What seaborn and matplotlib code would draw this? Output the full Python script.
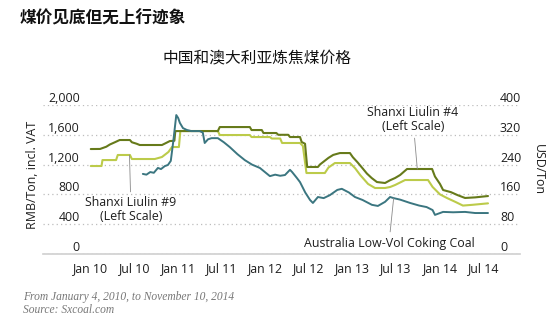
import matplotlib
matplotlib.use("Agg")
import matplotlib.pyplot as plt
import matplotlib.transforms as mtransforms
import seaborn as sns
import pandas as pd

# ---------------- data ----------------
liulin4_dates = ["2010-01-04","2010-02-12","2010-03-10","2010-03-25","2010-04-15","2010-05-05","2010-06-17","2010-06-25",
                 "2010-07-15","2010-07-28","2010-10-29","2010-11-15","2010-12-01","2010-12-20","2010-12-24","2011-06-20",
                 "2011-06-28","2011-11-01","2011-11-08","2011-12-21","2011-12-28","2012-02-20","2012-02-28","2012-04-10",
                 "2012-04-17","2012-05-29","2012-06-05","2012-06-19","2012-06-28","2012-08-12","2012-08-20","2012-09-05",
                 "2012-09-25","2012-10-15","2012-11-12","2012-12-24","2013-01-05","2013-01-25","2013-02-15","2013-03-05",
                 "2013-03-25","2013-04-16","2013-05-20","2013-06-10","2013-07-01","2013-07-22","2013-08-20","2013-12-03",
                 "2013-12-15","2014-01-05","2014-01-18","2014-02-20","2014-03-20","2014-04-20","2014-06-01","2014-07-25"]
liulin4_rmb = [1409,1410,1440,1470,1500,1530,1530,1500,
               1480,1463,1463,1490,1516,1520,1650,1650,
               1704,1704,1664,1664,1624,1624,1600,1600,
               1570,1570,1503,1480,1168,1168,1200,1240,
               1290,1330,1355,1355,1300,1230,1150,1080,
               1020,966,953,990,1020,1060,1141,1141,
               1040,940,859,830,790,752,760,778]

liulin9_dates = ["2010-01-04","2010-02-18","2010-02-22","2010-04-20","2010-04-27","2010-06-17","2010-06-25","2010-09-29",
                 "2010-10-29","2010-11-25","2010-12-10","2011-01-08","2011-01-14","2011-06-20","2011-06-28","2011-11-01",
                 "2011-11-08","2012-01-24","2012-02-01","2012-03-07","2012-03-15","2012-05-29","2012-06-10","2012-06-25",
                 "2012-09-10","2012-09-25","2012-10-22","2012-12-24","2013-01-15","2013-02-05","2013-03-10","2013-04-08",
                 "2013-05-20","2013-06-10","2013-07-01","2013-08-12","2013-11-16","2013-12-05","2014-01-05","2014-02-03",
                 "2014-03-10","2014-04-11","2014-05-20","2014-07-25"]
liulin9_rmb = [1181,1181,1261,1261,1329,1329,1275,1275,
               1302,1369,1436,1436,1651,1651,1597,1597,
               1570,1570,1550,1550,1490,1490,1450,1087,
               1087,1160,1221,1221,1150,1060,940,886,
               886,899,926,993,993,900,800,752,
               700,650,660,680]

aus_dates = ["2010-08-10","2010-08-25","2010-09-10","2010-09-25","2010-10-12","2010-10-25","2010-11-10","2010-11-23",
             "2010-12-05","2010-12-15","2010-12-28","2011-01-05","2011-01-12","2011-01-25","2011-02-10","2011-03-01",
             "2011-04-05","2011-04-18","2011-04-26","2011-05-10","2011-05-25","2011-06-20","2011-07-15","2011-08-09",
             "2011-09-10","2011-10-11","2011-11-10","2011-12-13","2012-01-24","2012-02-15","2012-03-07","2012-03-27",
             "2012-04-17","2012-04-26","2012-05-16","2012-05-29","2012-06-20","2012-07-10","2012-07-22","2012-08-12",
             "2012-09-05","2012-10-01","2012-11-01","2012-11-20","2012-12-20","2013-01-14","2013-02-15","2013-03-26",
             "2013-04-20","2013-05-20","2013-06-10","2013-06-25","2013-07-22","2013-09-02","2013-10-10","2013-11-10",
             "2013-12-05","2013-12-15","2014-01-18","2014-03-01","2014-04-20","2014-06-01","2014-07-25"]
aus_usd = [215,213,220,218,231,228,236,239,
           250,300,373,365,352,338,333,330,
           330,326,298,308,311,311,300,287,
           268,252,240,231,209,213,210,212,
           226,220,204,193,165,145,137,153,
           150,158,172,175,165,153,145,132,
           129,140,153,150,146,137,130,126,
           118,105,113,112,113,110,110]

left_ticks = [0, 400, 800, 1200, 1600, 2000]
left_labels = ["0", "400", "800", "1,200", "1,600", "2,000"]
right_ticks = [0, 80, 160, 240, 320, 400]
right_labels = ["0", "80", "160", "240", "320", "400"]
x_tick_dates = ["2010-01-01","2010-07-01","2011-01-01","2011-07-01","2012-01-01",
                "2012-07-01","2013-01-01","2013-07-01","2014-01-01","2014-07-01"]
x_tick_labels = ["Jan 10","Jul 10","Jan 11","Jul 11","Jan 12","Jul 12","Jan 13","Jul 13","Jan 14","Jul 14"]

title = "煤价见底但无上行迹象"
subtitle = "中国和澳大利亚炼焦煤价格"
footer1 = "From January 4, 2010, to November 10, 2014"
footer2 = "Source: Sxcoal.com"

# ---------------- style ----------------
sns.set_theme(style="white")
plt.rcParams['font.family'] = ['Open Sans', 'DejaVu Sans']

c_dark = "#667a1a"
c_light = "#bccb4a"
c_blue = "#3b7680"
txt = "#1e1e1e"
fs = 8.9

df4 = pd.DataFrame({"date": pd.to_datetime(liulin4_dates), "v": liulin4_rmb})
df9 = pd.DataFrame({"date": pd.to_datetime(liulin9_dates), "v": liulin9_rmb})
dfa = pd.DataFrame({"date": pd.to_datetime(aus_dates), "v": aus_usd})

W, H = 552, 333
fig = plt.figure(figsize=(W / 100, H / 100), dpi=100)
ax = fig.add_axes([43 / W, (H - 254) / H, (520 - 43) / W, (254 - 105) / H])
ax2 = ax.twinx()

sns.lineplot(data=df9, x="date", y="v", ax=ax, color=c_light, lw=1.5, estimator=None)
sns.lineplot(data=df4, x="date", y="v", ax=ax, color=c_dark, lw=1.5, estimator=None)
sns.lineplot(data=dfa, x="date", y="v", ax=ax2, color=c_blue, lw=1.4, estimator=None)

ax.set_ylim(0, 2000)
ax2.set_ylim(0, 400)
ax.set_xlim(pd.Timestamp("2009-06-18"), pd.Timestamp("2014-12-06"))

ax.set_yticks(left_ticks)
ax.set_yticklabels(left_labels)
ax2.set_yticks(right_ticks)
ax2.set_yticklabels(right_labels)
ax.set_xticks(pd.to_datetime(x_tick_dates))
ax.set_xticklabels(x_tick_labels)

for a in (ax, ax2):
    a.set_xlabel("")
    a.set_ylabel("")
    for s in a.spines.values():
        s.set_visible(False)
    a.tick_params(length=0)

ax.spines['bottom'].set_visible(True)
ax.spines['bottom'].set_color("#cfcfcf")
ax.spines['bottom'].set_linewidth(1.2)

ax.yaxis.grid(True, linestyle=(0, (1, 2.5)), color="#bdbdbd", linewidth=0.9)
ax.xaxis.grid(False)
ax2.grid(False)
ax.set_axisbelow(True)

ax.tick_params(axis='y', labelsize=fs, labelcolor=txt, pad=-26.6)
ax2.tick_params(axis='y', labelsize=fs, labelcolor=txt, pad=-14.4)
ax.tick_params(axis='x', labelsize=fs, labelcolor=txt, pad=6)

offset = mtransforms.ScaledTranslation(0, 0.08, fig.dpi_scale_trans)
for lab in ax.get_yticklabels() + ax2.get_yticklabels():
    lab.set_transform(lab.get_transform() + offset)

# axis titles
fig.text(32 / W, 1 - 175 / H, "RMB/Ton, incl. VAT", rotation=90, ha="center", va="center",
         fontsize=fs, color=txt)
fig.text(538 / W, 1 - 170 / H, "USD/Ton", rotation=270, ha="center", va="center",
         fontsize=fs, color=txt)

# annotations
lead = dict(arrowstyle='-', color="#8a8a8a", lw=0.6, shrinkA=1, shrinkB=0)
ax.annotate("Shanxi Liulin #9\n(Left Scale)", xy=(pd.Timestamp("2010-06-15"), 1329),
            xycoords='data', xytext=(131, H - 210), textcoords='figure pixels',
            ha='center', va='center', fontsize=fs, color=txt, linespacing=1.1, arrowprops=lead)
ax.annotate("Shanxi Liulin #4\n(Left Scale)", xy=(pd.Timestamp("2013-10-02"), 1141),
            xycoords='data', xytext=(413, H - 120), textcoords='figure pixels',
            ha='center', va='center', fontsize=fs, color=txt, linespacing=1.1, arrowprops=lead)
ax2.annotate("Australia Low-Vol Coking Coal", xy=(pd.Timestamp("2013-06-25"), 150),
             xycoords='data', xytext=(389, H - 243), textcoords='figure pixels',
             ha='center', va='center', fontsize=fs, color=txt, arrowprops=lead)

# titles
fig.text(20 / W, 1 - 18 / H, title, ha="left", va="center", fontsize=12, fontweight="bold",
         color="#111111", family=['Noto Sans CJK SC', 'DejaVu Sans'])
fig.text(163 / W, 1 - 58 / H, subtitle, ha="left", va="center", fontsize=11.3,
         color="#111111", family=['Noto Sans CJK SC', 'DejaVu Sans'])

# footer
fig.text(23 / W, 1 - 297 / H, footer1, ha="left", va="center", fontsize=8.3, style="italic",
         color="#777777", family=['Liberation Serif', 'DejaVu Serif'])
fig.text(23 / W, 1 - 310 / H, footer2, ha="left", va="center", fontsize=8.3, style="italic",
         color="#777777", family=['Liberation Serif', 'DejaVu Serif'])

fig.savefig("out.png", dpi=100)
